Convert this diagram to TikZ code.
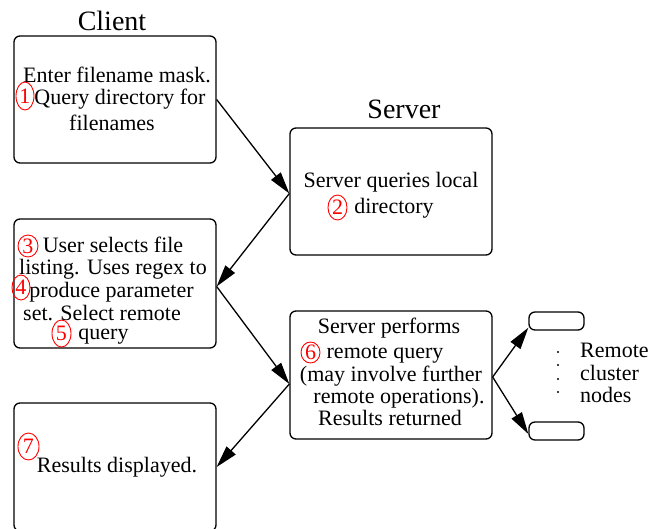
\documentclass[tikz,border=0pt]{standalone}
\usepackage{fontspec}
\setmainfont{Liberation Serif}
\usetikzlibrary{arrows.meta,shapes.geometric}
\tikzset{
  box/.style={draw, line width=1.3pt, rounded corners=6pt, minimum width=202pt, inner sep=0pt},
  rbox/.style={draw, line width=1.3pt, rounded corners=6pt, minimum width=55pt, minimum height=18pt, inner sep=0pt},
  txt/.style={anchor=base, inner sep=0pt, font=\fontsize{22}{23}\selectfont},
  ltxt/.style={anchor=base west, inner sep=0pt, font=\fontsize{22}{23}\selectfont},
  head/.style={anchor=base, inner sep=0pt, font=\fontsize{28}{30}\selectfont},
  cn/.style={ellipse, draw=red, text=red, line width=0.9pt, inner sep=0pt, minimum width=19pt, minimum height=25pt, font=\fontsize{22}{23}\selectfont},
  arr/.style={line width=1.3pt, -{Triangle[length=22pt,width=12pt]}},
  dotm/.style={circle, fill=black, inner sep=0pt, minimum size=2.4pt}
}
\begin{document}
\begin{tikzpicture}[x=1pt,y=-1pt]
\useasboundingbox (0,0) rectangle (662,528);
% headings
\node[head] (hc) at (112,30) {Client};
\node[head] (hs) at (404,118) {Server};
% boxes
\node[box, minimum height=127pt] (b1) at (115,99.5) {};
\node[box, minimum height=127pt] (b2) at (391,191.5) {};
\node[box, minimum height=129pt] (b3) at (115,283.5) {};
\node[box, minimum height=128pt] (b6) at (391,375) {};
\node[box, minimum height=128pt] (b7) at (115,467) {};
\node[rbox] (r1) at (556.5,321) {};
\node[rbox] (r2) at (556.5,431) {};
% box 1 text
\node[txt] (t1a) at (117,82) {Enter filename mask.};
\node[txt] (t1b) at (120,104) {Query directory for};
\node[txt] (t1c) at (112,130) {filenames};
% box 2 text
\node[txt] (t2a) at (391,187) {Server queries local};
\node[txt] (t2b) at (394,213) {directory};
% box 3 text
\node[txt] (t3a) at (113,252) {User selects file};
\node[txt] (t3b) at (113,274) {listing. Uses regex to};
\node[txt] (t3c) at (111.5,297) {produce parameter};
\node[txt] (t3d) at (102,320) {set. Select remote};
\node[txt] (t3e) at (103.5,339) {query};
% box 6 text
\node[txt] (t6a) at (389,333) {Server performs};
\node[txt] (t6b) at (385,358) {remote query};
\node[txt] (t6c) at (391,381) {(may involve further};
\node[txt] (t6d) at (399,403) {remote operations).};
\node[txt] (t6e) at (390,425) {Results returned};
% box 7 text
\node[txt] (t7a) at (117,472) {Results displayed.};
% remote text
\node[ltxt] (rt1) at (580,357) {Remote};
\node[ltxt] (rt2) at (580,380) {cluster};
\node[ltxt] (rt3) at (580,402) {nodes};
\node[dotm] (d1) at (558,352) {};
\node[dotm] (d2) at (558,365) {};
\node[dotm] (d3) at (558,379) {};
\node[dotm] (d4) at (558,392) {};
% circled numbers
\node[cn, minimum height=28pt, minimum width=18pt] (c1) at (25,96) {1};
\node[cn] (c2) at (337.5,207.5) {2};
\node[cn, minimum height=22pt, minimum width=20pt] (c3) at (28,246) {3};
\node[cn, minimum width=18pt] (c4) at (21,287.5) {4};
\node[cn, minimum height=27pt] (c5) at (61.5,333.5) {5};
\node[cn, minimum height=21pt] (c6) at (310.5,352.5) {6};
\node[cn, minimum height=27pt, minimum width=21pt] (c7) at (28.5,446.5) {7};
% connectors
\draw[arr] (b1.east) -- ([yshift=-2pt]b2.west);
\draw[arr] ([yshift=-2pt]b2.west) -- ([yshift=-3pt]b3.east);
\draw[arr] ([yshift=-3pt]b3.east) -- ([yshift=-9pt]b6.west);
\draw[arr] ([yshift=-9pt]b6.west) -- (b7.east);
\draw[arr] ([yshift=-2pt]b6.east) -- ([yshift=3pt]r1.south west);
\draw[arr] ([yshift=-2pt]b6.east) -- ([yshift=-3pt]r2.west);
\end{tikzpicture}
\end{document}
